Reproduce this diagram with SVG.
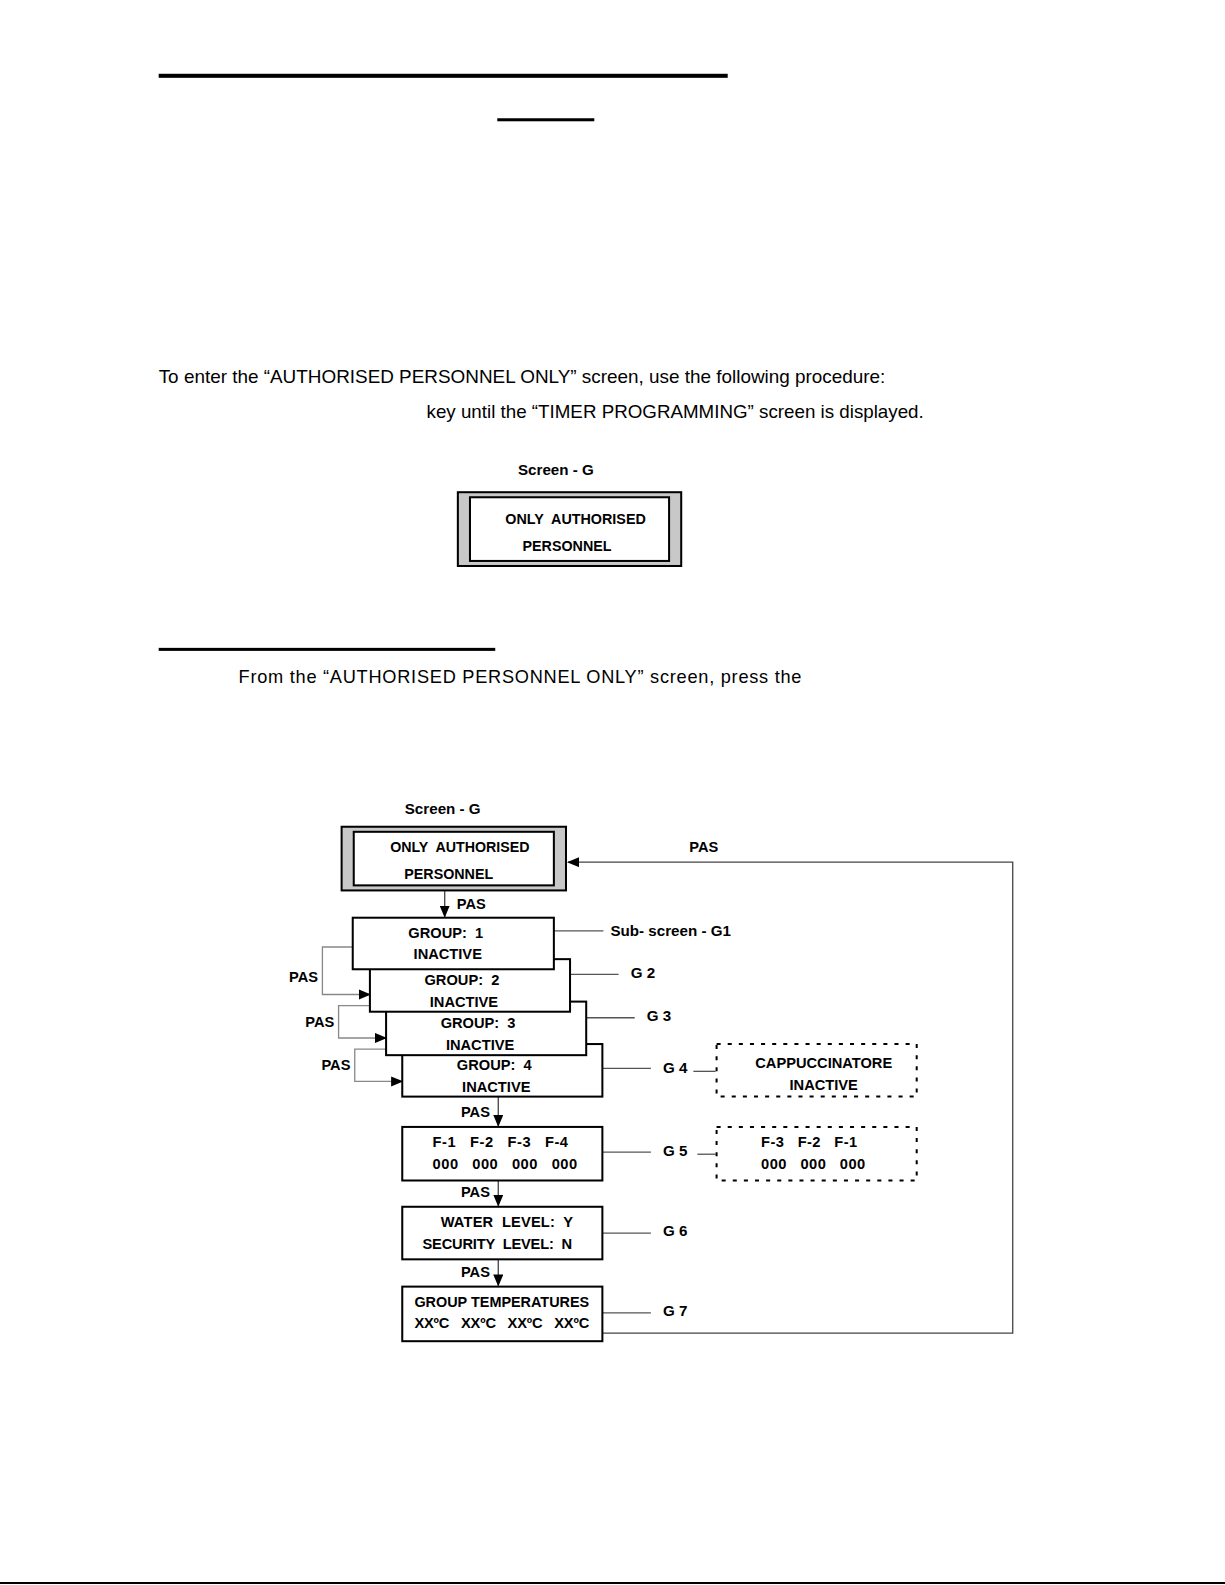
<svg xmlns="http://www.w3.org/2000/svg" width="1225" height="1585" viewBox="0 0 1225 1585">
<style>
text{white-space:pre}
.t{font-family:"Liberation Sans",Arial,sans-serif;font-size:18px;fill:#000}
.b{font-family:"Liberation Sans",Arial,sans-serif;font-weight:bold;font-size:14.5px;fill:#000}
.bl{font-family:"Liberation Sans",Arial,sans-serif;font-weight:bold;font-size:15px;fill:#000}
.box{fill:#fff;stroke:#000;stroke-width:2}
.outer{fill:#c8c8c8;stroke:#000;stroke-width:2}
.inner{fill:#fff;stroke:#000;stroke-width:2}
.dash{fill:#fff;stroke:#000;stroke-width:2;stroke-dasharray:4 7}
.lead{stroke:#555;stroke-width:1.3;fill:none}
.conn{stroke:#444;stroke-width:1.3;fill:none}
.loop{stroke:#888;stroke-width:1.3;fill:none}
</style>
<defs>
<marker id="ah" markerWidth="12" markerHeight="10" refX="11" refY="5" orient="auto" markerUnits="userSpaceOnUse">
<path d="M0,0 L12,5 L0,10 Z" fill="#000"/>
</marker>
</defs>
<rect width="1225" height="1585" fill="#fff"/>
<rect x="0" y="1582" width="1225" height="2" fill="#000"/>

<g transform="scale(1.0107)">
<g id="page">
<rect x="157" y="73" width="563" height="4" fill="#000"/>
<rect x="492" y="117" width="96" height="3" fill="#000"/>
<text class="t" x="157" y="379" textLength="719" lengthAdjust="spacingAndGlyphs">To enter the “AUTHORISED PERSONNEL ONLY” screen, use the following procedure:</text>
<text class="t" x="422" y="414" textLength="492" lengthAdjust="spacingAndGlyphs">key until the “TIMER PROGRAMMING” screen is displayed.</text>
<rect x="157" y="641" width="333" height="3" fill="#000"/>
<text class="t" x="236" y="676" textLength="557" lengthAdjust="spacing">From the “AUTHORISED PERSONNEL ONLY” screen, press the</text>
</g>

<g id="screenG-top">
<text class="bl" x="550" y="470" text-anchor="middle">Screen - G</text>
<rect class="outer" x="453" y="487" width="221" height="73"/>
<rect class="inner" x="465" y="492" width="197" height="63"/>
<text class="b" x="500" y="518" textLength="139" lengthAdjust="spacingAndGlyphs">ONLY  AUTHORISED</text>
<text class="b" x="517" y="545" textLength="88" lengthAdjust="spacingAndGlyphs">PERSONNEL</text>
</g>

<g id="connectors">
<line class="conn" x1="440" y1="881" x2="440" y2="907" marker-end="url(#ah)"/>
<text class="b" x="452" y="899">PAS</text>
<polyline class="conn" points="596,1319 1002,1319 1002,853 562,853" marker-end="url(#ah)"/>
<text class="b" x="682" y="843">PAS</text>
<polyline class="loop" points="349,937 319,937 319,984 366,984" marker-end="url(#ah)"/>
<text class="b" x="286" y="972">PAS</text>
<polyline class="loop" points="366,995 335,995 335,1027 382,1027" marker-end="url(#ah)"/>
<text class="b" x="302" y="1016">PAS</text>
<polyline class="loop" points="382,1038 351,1038 351,1070 398,1070" marker-end="url(#ah)"/>
<text class="b" x="318" y="1059">PAS</text>
<line class="conn" x1="493" y1="1085" x2="493" y2="1114" marker-end="url(#ah)"/>
<text class="b" x="456" y="1105">PAS</text>
<line class="conn" x1="493" y1="1168" x2="493" y2="1193" marker-end="url(#ah)"/>
<text class="b" x="456" y="1184">PAS</text>
<line class="conn" x1="493" y1="1246" x2="493" y2="1272" marker-end="url(#ah)"/>
<text class="b" x="456" y="1263">PAS</text>
<line class="lead" x1="548" y1="921" x2="597" y2="921"/>
<line class="lead" x1="564" y1="964" x2="612" y2="964"/>
<line class="lead" x1="580" y1="1007" x2="628" y2="1007"/>
<line class="lead" x1="596" y1="1057" x2="644" y2="1057"/>
<line class="lead" x1="686" y1="1060" x2="708" y2="1060"/>
<line class="lead" x1="596" y1="1140" x2="644" y2="1140"/>
<line class="lead" x1="690" y1="1142" x2="708" y2="1142"/>
<line class="lead" x1="596" y1="1220" x2="644" y2="1220"/>
<line class="lead" x1="596" y1="1299" x2="644" y2="1299"/>
</g>

<g id="screenG">
<text class="bl" x="438" y="805" text-anchor="middle">Screen - G</text>
<rect class="outer" x="338" y="818" width="222" height="63"/>
<rect class="inner" x="350" y="823" width="198" height="53"/>
<text class="b" x="386" y="843" textLength="138" lengthAdjust="spacingAndGlyphs">ONLY  AUTHORISED</text>
<text class="b" x="400" y="870" textLength="88" lengthAdjust="spacingAndGlyphs">PERSONNEL</text>
</g>

<g id="G4">
<rect class="box" x="398" y="1033" width="198" height="52"/>
<text class="b" x="489" y="1059" text-anchor="middle">GROUP:  4</text>
<text class="b" x="491" y="1080" text-anchor="middle">INACTIVE</text>
<text class="bl" x="656" y="1062">G 4</text>
</g>
<g id="G3">
<rect class="box" x="382" y="991" width="198" height="53"/>
<text class="b" x="473" y="1017" text-anchor="middle">GROUP:  3</text>
<text class="b" x="475" y="1039" text-anchor="middle">INACTIVE</text>
<text class="bl" x="640" y="1010">G 3</text>
</g>
<g id="G2">
<rect class="box" x="366" y="949" width="198" height="52"/>
<text class="b" x="457" y="975" text-anchor="middle">GROUP:  2</text>
<text class="b" x="459" y="996" text-anchor="middle">INACTIVE</text>
<text class="bl" x="624" y="968">G 2</text>
</g>
<g id="G1">
<rect class="box" x="349" y="908" width="199" height="51"/>
<text class="b" x="441" y="928" text-anchor="middle">GROUP:  1</text>
<text class="b" x="443" y="949" text-anchor="middle">INACTIVE</text>
<text class="bl" x="604" y="926">Sub- screen - G1</text>
</g>

<g id="cappuccinatore">
<rect class="dash" x="709" y="1033" width="198" height="52"/>
<text class="b" x="815" y="1057" text-anchor="middle">CAPPUCCINATORE</text>
<text class="b" x="815" y="1078" text-anchor="middle">INACTIVE</text>
</g>

<g id="G5">
<rect class="box" x="398" y="1115" width="198" height="53"/>
<text class="b" x="428" y="1135" textLength="134" lengthAdjust="spacing">F-1   F-2   F-3   F-4</text>
<text class="b" x="428" y="1157" textLength="143" lengthAdjust="spacing">000   000   000   000</text>
<text class="bl" x="656" y="1144">G 5</text>
</g>

<g id="G5b">
<rect class="dash" x="709" y="1115" width="198" height="53"/>
<text class="b" x="753" y="1135" textLength="95" lengthAdjust="spacing">F-3   F-2   F-1</text>
<text class="b" x="753" y="1157" textLength="103" lengthAdjust="spacing">000   000   000</text>
</g>

<g id="G6">
<rect class="box" x="398" y="1194" width="198" height="52"/>
<text class="b" x="436" y="1214" textLength="131" lengthAdjust="spacing">WATER  LEVEL:  Y</text>
<text class="b" x="418" y="1236" textLength="148" lengthAdjust="spacing">SECURITY  LEVEL:  N</text>
<text class="bl" x="656" y="1223">G 6</text>
</g>

<g id="G7">
<rect class="box" x="398" y="1273" width="198" height="54"/>
<text class="b" x="410" y="1293" textLength="173" lengthAdjust="spacingAndGlyphs">GROUP TEMPERATURES</text>
<text class="b" x="410" y="1314" textLength="173" lengthAdjust="spacing">XXºC   XXºC   XXºC   XXºC</text>
<text class="bl" x="656" y="1302">G 7</text>
</g>
</g>
</svg>
